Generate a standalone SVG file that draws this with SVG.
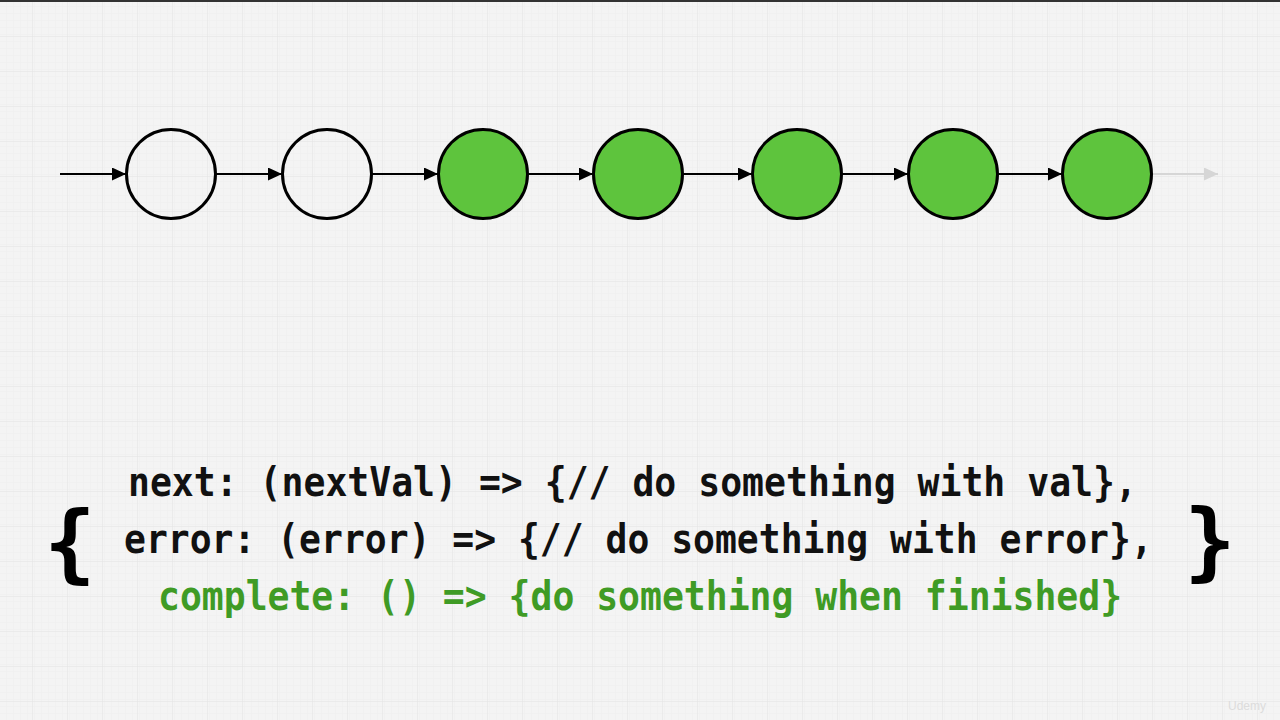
<svg xmlns="http://www.w3.org/2000/svg" width="1280" height="720" viewBox="0 0 1280 720">
  <defs>
    <pattern id="minor" width="7" height="7" patternUnits="userSpaceOnUse">
      <path d="M7 0 V7 M0 7 H7" fill="none" stroke="#ebebeb" stroke-width="0.6"/>
    </pattern>
    <pattern id="major" x="-2" y="2" width="35" height="35" patternUnits="userSpaceOnUse">
      <path d="M35 0 V35 M0 35 H35" fill="none" stroke="#e3e3e3" stroke-width="1"/>
    </pattern>
    <marker id="ah" viewBox="0 0 14 13" refX="14" refY="6.5" markerWidth="14" markerHeight="13" markerUnits="userSpaceOnUse" orient="auto">
      <path d="M0 0 L14 6.5 L0 13 Z" fill="#000"/>
    </marker>
    <marker id="ahg" viewBox="0 0 14 13" refX="14" refY="6.5" markerWidth="14" markerHeight="13" markerUnits="userSpaceOnUse" orient="auto">
      <path d="M0 0 L14 6.5 L0 13 Z" fill="#d6d6d6"/>
    </marker>
  </defs>
  <style>
    .node { stroke: #000; stroke-width: 3; }
    .empty { fill: none; }
    .full { fill: #5ec43d; }
    .conn { stroke: #000; stroke-width: 2; fill: none; marker-end: url(#ah); }
    .code { font-family: "DejaVu Sans Mono", "Liberation Mono", monospace; font-weight: bold; font-size: 40px; }
    .black { fill: #111; }
    .green { fill: #3f9b25; }
    .brace { font-family: "DejaVu Sans Mono", monospace; font-weight: bold; font-size: 86px; fill: #000; }
  </style>
  <rect width="1280" height="720" fill="#f4f4f4"/>
  <rect width="1280" height="720" fill="url(#minor)"/>
  <rect width="1280" height="720" fill="url(#major)"/>
  <rect width="1280" height="2" fill="#333"/>

  <g id="connectors">
    <line class="conn" x1="60" y1="174" x2="126" y2="174"/>
    <line class="conn" x1="216" y1="174" x2="282" y2="174"/>
    <line class="conn" x1="372" y1="174" x2="438" y2="174"/>
    <line class="conn" x1="528" y1="174" x2="593" y2="174"/>
    <line class="conn" x1="683" y1="174" x2="752" y2="174"/>
    <line class="conn" x1="842" y1="174" x2="908" y2="174"/>
    <line class="conn" x1="998" y1="174" x2="1062" y2="174"/>
    <line x1="1153" y1="174" x2="1218" y2="174" stroke="#d6d6d6" stroke-width="2" marker-end="url(#ahg)"/>
  </g>

  <g id="n1"><circle class="node empty" cx="171" cy="174" r="44.5"/></g>
  <g id="n2"><circle class="node empty" cx="327" cy="174" r="44.5"/></g>
  <g id="n3"><circle class="node full" cx="483" cy="174" r="44.5"/></g>
  <g id="n4"><circle class="node full" cx="638" cy="174" r="44.5"/></g>
  <g id="n5"><circle class="node full" cx="797" cy="174" r="44.5"/></g>
  <g id="n6"><circle class="node full" cx="953" cy="174" r="44.5"/></g>
  <g id="n7"><circle class="node full" cx="1107" cy="174" r="44.5"/></g>

  <g id="code">
    <text class="brace" x="44" y="572">{</text>
    <text class="brace" x="1184" y="570">}</text>
    <text class="code black" transform="matrix(0.911 0 0 1 128 496)">next: (nextVal) =&gt; {// do something with val},</text>
    <text class="code black" transform="matrix(0.909 0 0 1 124 553)">error: (error) =&gt; {// do something with error},</text>
    <text class="code green" transform="matrix(0.91 0 0 1 158 610)">complete: () =&gt; {do something when finished}</text>
  </g>

  <text x="1228" y="710" font-family="Liberation Sans, sans-serif" font-size="12" fill="#dcdcdc">Udemy</text>
</svg>
